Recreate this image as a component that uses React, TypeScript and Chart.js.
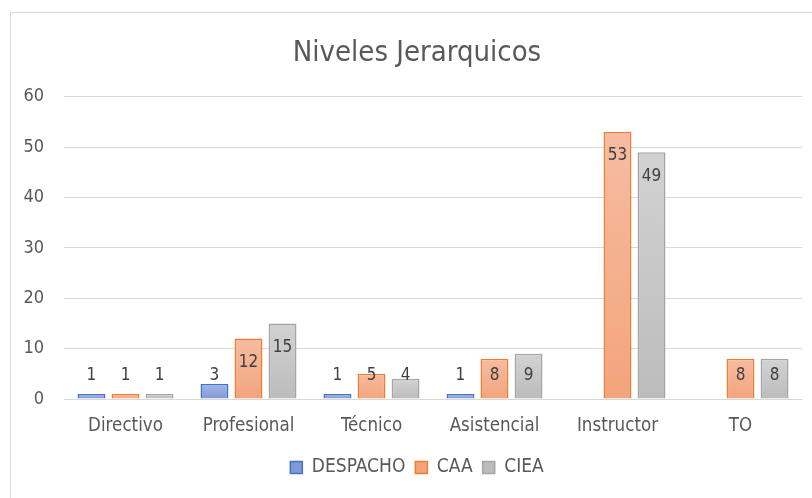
import React, { useEffect, useRef } from "react";
import { Chart, registerables } from "chart.js";

Chart.register(...registerables);

const categories = ["Directivo", "Profesional", "Técnico", "Asistencial", "Instructor", "TO"];
const despacho: (number | null)[] = [1, 3, 1, 1, null, null];
const caa: (number | null)[] = [1, 12, 5, 8, 53, 8];
const ciea: (number | null)[] = [1, 15, 4, 9, 49, 8];
const seriesNames = ["DESPACHO", "CAA", "CIEA"];
const yTicks = [0, 10, 20, 30, 40, 50, 60];

const FONT = "'DejaVu Sans Condensed', 'DejaVu Sans', sans-serif";
const TEXT = "#595959";

function gradientFill(top: string, bottom: string, mid: string) {
  return (ctx: any) => {
    const chart = ctx.chart;
    if (ctx.type !== "data" || !chart.chartArea || !chart.scales.y) return mid;
    const v = ctx.raw;
    if (v == null) return mid;
    const y0 = chart.scales.y.getPixelForValue(v);
    const y1 = chart.scales.y.getPixelForValue(0);
    if (!isFinite(y0) || !isFinite(y1) || y0 === y1) return mid;
    const g = chart.ctx.createLinearGradient(0, y0, 0, y1);
    g.addColorStop(0, top);
    g.addColorStop(1, bottom);
    return g;
  };
}

const labelPlugin = {
  id: "valueLabels",
  afterDatasetsDraw(chart: any) {
    const ctx = chart.ctx;
    const base = chart.scales.y.getPixelForValue(0);
    ctx.save();
    ctx.font = `17px ${FONT}`;
    ctx.fillStyle = "#404040";
    ctx.textAlign = "center";
    ctx.textBaseline = "middle";
    chart.data.datasets.forEach((ds: any, di: number) => {
      const meta = chart.getDatasetMeta(di);
      meta.data.forEach((bar: any, i: number) => {
        const v = ds.data[i];
        if (v == null) return;
        const y = Math.min(bar.y + 24, base - 23);
        ctx.fillText(String(v), bar.x, y);
      });
    });
    ctx.restore();
  },
};

export default function App() {
  const ref = useRef<HTMLCanvasElement | null>(null);
  useEffect(() => {
    if (!ref.current) return;
    const chart = new Chart(ref.current, {
      type: "bar",
      data: {
        labels: categories,
        datasets: [
          {
            label: seriesNames[0],
            data: despacho,
            backgroundColor: gradientFill("#a3b5e6", "#8099d8", "#8fa7dd"),
            borderColor: "#4472C4",
            borderWidth: 1.5,
          },
          {
            label: seriesNames[1],
            data: caa,
            backgroundColor: gradientFill("#f6bca1", "#f3a47c", "#f4b18f"),
            borderColor: "#ED7D31",
            borderWidth: 1.5,
          },
          {
            label: seriesNames[2],
            data: ciea,
            backgroundColor: gradientFill("#d2d2d2", "#bcbcbc", "#c8c8c8"),
            borderColor: "#A5A5A5",
            borderWidth: 1.5,
          },
        ],
      },
      options: {
        responsive: false,
        animation: false,
        datasets: { bar: { categoryPercentage: 0.83, barPercentage: 0.82 } },
        layout: { padding: { left: 0, right: 0, top: 0, bottom: 16 } },
        plugins: {
          title: {
            display: true,
            text: "Niveles Jerarquicos",
            color: TEXT,
            font: { family: FONT, size: 29, weight: "normal" },
            padding: { top: 23, bottom: 26 },
          },
          legend: {
            position: "bottom",
            labels: {
              color: TEXT,
              font: { family: FONT, size: 19 },
              boxWidth: 12,
              boxHeight: 12,
              padding: 10,
            },
          },
          tooltip: { enabled: false },
        },
        scales: {
          x: {
            grid: { display: false, drawTicks: false },
            border: { display: true, color: "#d9d9d9", width: 1 },
            ticks: { color: TEXT, font: { family: FONT, size: 18.6 }, padding: 16 },
            afterFit: (s: any) => {
              s.height = 49;
            },
          },
          y: {
            min: 0,
            max: 60,
            afterBuildTicks: (s: any) => {
              s.ticks = yTicks.map((v) => ({ value: v }));
            },
            grid: { color: "#d9d9d9", drawTicks: false, lineWidth: 1 },
            border: { display: false },
            ticks: { color: TEXT, font: { family: FONT, size: 18 }, padding: 20 },
            afterFit: (s: any) => {
              s.width = 53;
            },
          },
          yRight: {
            type: "linear",
            axis: "y",
            position: "right",
            display: true,
            grid: { display: false, drawTicks: false },
            border: { display: false },
            ticks: { display: false },
            afterFit: (s: any) => {
              s.width = 21;
            },
          },
        },
      },
      plugins: [labelPlugin],
    });
    return () => chart.destroy();
  }, []);
  return (
    <div
      style={{
        position: "fixed",
        left: 10,
        top: 12,
        width: 812,
        height: 492,
        border: "1px solid #d9d9d9",
        background: "#fff",
        overflow: "hidden",
      }}
    >
      <canvas ref={ref} width={812} height={490} style={{ display: "block" }} />
    </div>
  );
}
